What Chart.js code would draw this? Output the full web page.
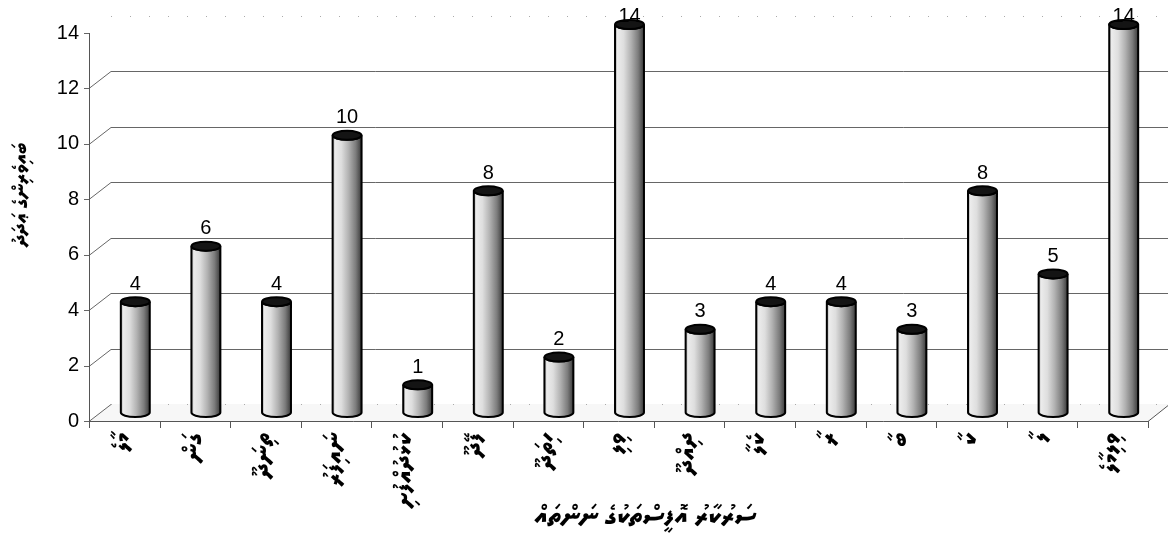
<!DOCTYPE html>
<html lang="dv">
<head>
<meta charset="utf-8">
<script src="https://cdn.jsdelivr.net/npm/chart.js@4.4.1/dist/chart.umd.min.js"></script>
<style>
html, body { margin: 0; padding: 0; background: #fff; }
#wrap { width: 1168px; height: 533px; }
</style>
</head>
<body>
<div id="wrap"><canvas id="chart" width="1168" height="533"></canvas></div>
<script>
// data
const categories = ['މާލެ', 'ގަން', 'ތިނަދޫ', 'ނައިފަރު', 'ކުޅުދުއްފުށި', 'ފޭދޫ', 'ހިތަދޫ', 'ވިލި',
                    'ދިއްދޫ', 'ކެލާ', 'ރާ', 'ބާ', 'ކާ', 'ލާ', 'ވިލިމާލެ'];
const counts = [4, 6, 4, 10, 1, 8, 2, 14, 3, 4, 4, 3, 8, 5, 14];
const yTicks = [0, 2, 4, 6, 8, 10, 12, 14];
const xTitle = 'ސަރުކާރު އޮފީސްތަކުގެ ނަންތައް';
const yTitle = 'ބައިވެރިންގެ ޢަދަދު';

const DX = 22, DY = 17;   // 3d depth offset of the back wall
const thaanaFont = "'MV Boli', 'Noto Sans Thaana', 'DejaVu Sans', sans-serif";

const cylinderPlugin = {
    id: 'cylinders',
    beforeDatasetsDraw(chart) {
        const ctx = chart.ctx, a = chart.chartArea, y = chart.scales.y;
        ctx.save();
        // floor
        ctx.fillStyle = '#f7f7f7';
        ctx.beginPath();
        ctx.moveTo(a.left, a.bottom);
        ctx.lineTo(a.right, a.bottom);
        ctx.lineTo(a.right + DX, a.bottom - DY);
        ctx.lineTo(a.left + DX, a.bottom - DY);
        ctx.closePath();
        ctx.fill();

        ctx.lineWidth = 1;
        yTicks.forEach(v => {
            const py = Math.round(y.getPixelForValue(v)) + 0.5;
            ctx.strokeStyle = '#666';
            if (v > 0 && v < 14) {
                ctx.beginPath();
                ctx.moveTo(a.left + DX, py - DY);
                ctx.lineTo(chart.width, py - DY);
                ctx.stroke();
            } else {
                ctx.strokeStyle = '#aaa';
                ctx.setLineDash([1, 18]);
                ctx.beginPath();
                ctx.moveTo(a.left + DX, py - DY);
                ctx.lineTo(chart.width, py - DY);
                ctx.stroke();
                ctx.setLineDash([]);
                ctx.strokeStyle = '#666';
            }
            if (v < 14) {
                ctx.beginPath();
                ctx.moveTo(a.left, py);
                ctx.lineTo(a.left + DX, py - DY);
                ctx.stroke();
            }
            ctx.beginPath();
            ctx.moveTo(a.left - 5, py);
            ctx.lineTo(a.left, py);
            ctx.stroke();
        });

        // axis lines
        ctx.strokeStyle = '#555';
        ctx.beginPath();
        ctx.moveTo(a.left + 0.5, a.top);
        ctx.lineTo(a.left + 0.5, a.bottom);
        ctx.moveTo(a.left, a.bottom + 0.5);
        ctx.lineTo(a.right, a.bottom + 0.5);
        ctx.lineTo(a.right + DX, a.bottom - DY);
        ctx.stroke();
        const n = categories.length, step = (a.right - a.left) / n;
        ctx.beginPath();
        for (let i = 0; i <= n; i++) {
            const xb = Math.round(a.left + i * step) + 0.5;
            ctx.moveTo(xb, a.bottom);
            ctx.lineTo(xb, a.bottom + 7);
        }
        ctx.stroke();
        ctx.restore();
    },
    afterDatasetsDraw(chart) {
        const ctx = chart.ctx;
        const meta = chart.getDatasetMeta(0);
        ctx.save();
        meta.data.forEach((bar, i) => {
            const cx = bar.x + DX / 2;
            const top = bar.y - DY / 2;
            const bot = bar.base - DY / 2;
            const rx = bar.width / 2, ry = 4.5;
            const xl = cx - rx, xr = cx + rx;

            const g = ctx.createLinearGradient(xl, 0, xr, 0);
            g.addColorStop(0, '#9a9a9a');
            g.addColorStop(0.08, '#ececec');
            g.addColorStop(0.3, '#dedede');
            g.addColorStop(0.55, '#b2b2b2');
            g.addColorStop(0.8, '#7c7c7c');
            g.addColorStop(0.95, '#4a4a4a');
            g.addColorStop(1, '#222');

            ctx.beginPath();
            ctx.moveTo(xl, top);
            ctx.lineTo(xl, bot);
            ctx.ellipse(cx, bot, rx, ry, 0, Math.PI, 0, true);
            ctx.lineTo(xr, top);
            ctx.ellipse(cx, top, rx, ry, 0, 0, Math.PI, false);
            ctx.closePath();
            ctx.fillStyle = g;
            ctx.fill();
            ctx.lineWidth = 2;
            ctx.strokeStyle = '#000';
            ctx.stroke();

            ctx.beginPath();
            ctx.ellipse(cx, top, rx, ry, 0, 0, Math.PI * 2);
            ctx.fillStyle = '#141414';
            ctx.fill();
            ctx.stroke();

            // value label
            ctx.fillStyle = '#000';
            ctx.font = '20px "Liberation Sans", Arial, sans-serif';
            ctx.textAlign = 'center';
            ctx.textBaseline = 'bottom';
            const ly = Math.max(top - ry - 3, 26);
            ctx.fillText(String(counts[i]), cx, ly);
        });
        ctx.restore();
    },
    afterDraw(chart) {
        // axis titles, right-to-left text
        const ctx = chart.ctx;
        ctx.save();
        ctx.direction = 'rtl';
        ctx.fillStyle = '#000';
        ctx.textAlign = 'center';
        ctx.textBaseline = 'middle';
        ctx.font = 'bold 27px ' + thaanaFont;
        ctx.fillText(xTitle, 645, 518);
        ctx.font = 'bold 21px ' + thaanaFont;
        ctx.translate(22, 195);
        ctx.rotate(-Math.PI / 2);
        ctx.fillText(yTitle, 0, 0);
        ctx.restore();
    }
};

new Chart(document.getElementById('chart'), {
    type: 'bar',
    data: {
        labels: categories,
        datasets: [{
            data: counts,
            backgroundColor: 'rgba(0,0,0,0)',
            borderWidth: 0,
            barPercentage: 0.41,
            categoryPercentage: 1
        }]
    },
    options: {
        responsive: false,
        animation: false,
        layout: { padding: { top: 33, right: 20, left: 0, bottom: 0 } },
        plugins: { legend: { display: false }, tooltip: { enabled: false } },
        scales: {
            x: {
                grid: { display: false, drawTicks: false },
                border: { display: false },
                ticks: {
                    autoSkip: false,
                    minRotation: 90,
                    maxRotation: 90,
                    padding: 12,
                    color: '#000',
                    font: { family: thaanaFont, size: 26, weight: 'bold' }
                },
                afterFit(scale) { scale.height = 112; }
            },
            y: {
                min: 0,
                max: 14,
                grid: { display: false, drawTicks: false },
                border: { display: false },
                ticks: {
                    stepSize: 2,
                    padding: 10,
                    color: '#000',
                    font: { family: '"Liberation Sans", Arial, sans-serif', size: 20 }
                },
                afterFit(scale) { scale.width = 89; }
            }
        }
    },
    plugins: [cylinderPlugin]
});
</script>
</body>
</html>
